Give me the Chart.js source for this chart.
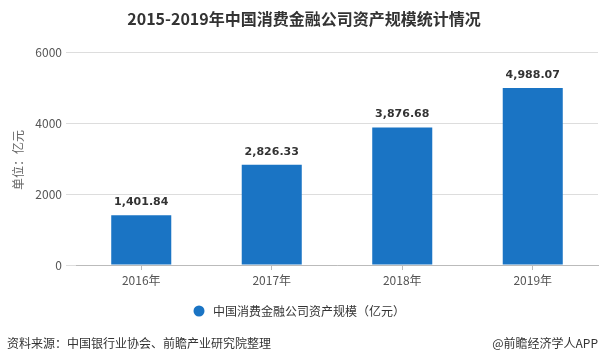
<!DOCTYPE html>
<html><head><meta charset="utf-8">
<script src="https://cdn.jsdelivr.net/npm/chart.js@4"></script>
<style>html,body{margin:0;padding:0;background:#fff;}#c{display:block;}</style>
</head><body>
<canvas id="c" width="604" height="364"></canvas>
<script>
const categories = ["2016年", "2017年", "2018年", "2019年"];
const assetValues = [1401.84, 2826.33, 3876.68, 4988.07];
const yTicks = [0, 2000, 4000, 6000];
const seriesName = "中国消费金融公司资产规模（亿元）";
const titleText = "2015-2019年中国消费金融公司资产规模统计情况";
const yTitle = "单位：亿元";
const sourceText = "资料来源：中国银行业协会、前瞻产业研究院整理";
const creditText = "@前瞻经济学人APP";
const barColor = "#1a74c4";
const CJK = '"Noto Sans CJK SC", "Noto Sans", sans-serif';

const fmt = v => v.toLocaleString('en-US', {minimumFractionDigits: 2, maximumFractionDigits: 2});

const extras = {
  id: 'extras',
  afterDraw(chart) {
    const ctx = chart.ctx;
    ctx.save();
    // title
    ctx.fillStyle = '#333';
    ctx.font = 'bold 16px ' + CJK;
    ctx.textAlign = 'center';
    ctx.textBaseline = 'middle';
    ctx.fillText(titleText, 304, 19);
    // data labels
    const meta = chart.getDatasetMeta(0);
    ctx.font = 'bold 11px "DejaVu Sans", sans-serif';
    ctx.fillStyle = '#333';
    ctx.textBaseline = 'middle';
    meta.data.forEach((bar, i) => {
      ctx.fillText(fmt(assetValues[i]), bar.x, bar.y - 13);
    });
    // y title
    ctx.save();
    ctx.translate(18, 160);
    ctx.rotate(-Math.PI / 2);
    ctx.font = '12px ' + CJK;
    ctx.fillStyle = '#666';
    ctx.textAlign = 'center';
    ctx.fillText(yTitle, 0, 0);
    ctx.restore();
    // legend
    ctx.fillStyle = barColor;
    ctx.beginPath();
    ctx.arc(199, 311, 5.5, 0, Math.PI * 2);
    ctx.fill();
    ctx.fillStyle = '#333';
    ctx.font = '12px ' + CJK;
    ctx.textAlign = 'left';
    ctx.fillText(seriesName, 213, 311);
    // footer
    ctx.fillText(sourceText, 7, 343);
    ctx.textAlign = 'right';
    ctx.fillText(creditText, 598, 343);
    ctx.restore();
  }
};

new Chart(document.getElementById('c'), {
  type: 'bar',
  data: {
    labels: categories,
    datasets: [{
      label: seriesName,
      data: assetValues,
      backgroundColor: barColor,
      barPercentage: 0.46,
      categoryPercentage: 1.0
    }]
  },
  options: {
    responsive: false,
    animation: false,
    devicePixelRatio: 1,
    layout: { padding: { top: 52, right: 6, left: 0, bottom: 0 } },
    plugins: { legend: { display: false }, title: { display: false }, tooltip: { enabled: false } },
    scales: {
      x: {
        grid: { offset: false, drawOnChartArea: false, drawTicks: true, tickLength: 5, color: '#bbb' },
        border: { display: true, color: '#bbb' },
        ticks: { color: '#555', font: { size: 12, family: CJK }, padding: 3 },
        afterFit(s) { s.height = 99; }
      },
      y: {
        min: 0, max: 6000,
        afterBuildTicks(s) { s.ticks = yTicks.map(v => ({ value: v })); },
        grid: { color: '#ddd', tickLength: 10, drawTicks: true },
        border: { display: false },
        ticks: { color: '#555', font: { size: 12, family: CJK }, padding: 4, callback: v => String(v) },
        afterFit(s) { s.width = 76; }
      }
    }
  },
  plugins: [extras]
});
</script>
</body></html>
